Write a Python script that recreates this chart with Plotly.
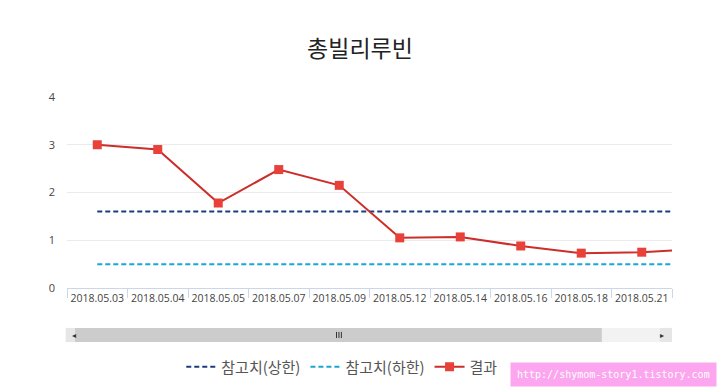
import plotly.graph_objects as go

categories = ["2018.05.03", "2018.05.04", "2018.05.05", "2018.05.07", "2018.05.09",
              "2018.05.12", "2018.05.14", "2018.05.16", "2018.05.18", "2018.05.21",
              "2018.05.23"]
result = [3.0, 2.9, 1.78, 2.48, 2.15, 1.05, 1.07, 0.88, 0.73, 0.75, 0.82]
upper_ref = [1.6] * len(categories)
lower_ref = [0.5] * len(categories)
y_ticks = [0, 1, 2, 3, 4]

FONT = "Noto Sans CJK KR"
TICKFONT = "Open Sans"

fig = go.Figure()
fig.add_trace(go.Scatter(x=categories, y=upper_ref, name="참고치(상한)", mode="lines",
                         line=dict(color="#1d3c7e", width=2, dash="5px,3px")))
fig.add_trace(go.Scatter(x=categories, y=lower_ref, name="참고치(하한)", mode="lines",
                         line=dict(color="#18a6d2", width=2, dash="5px,3px")))
fig.add_trace(go.Scatter(x=categories, y=result, name="결과", mode="lines+markers",
                         line=dict(color="#cc2e2a", width=2),
                         marker=dict(symbol="square", size=9, color="#e8413a")))

fig.update_layout(
    width=720, height=390,
    margin=dict(l=67, r=48, t=97, b=102, autoexpand=False),
    paper_bgcolor="white", plot_bgcolor="white",
    font=dict(family=FONT, color="#333333"),
    title=dict(text="총빌리루빈", x=0.5, xanchor="center", y=0.875, yanchor="middle",
               font=dict(size=23, color="#222222", family=FONT)),
    showlegend=True,
    legend=dict(orientation="h", x=0.455, xanchor="center", y=-0.414, yanchor="middle",
                font=dict(size=15, color="#555555", family=FONT),
                itemwidth=30, tracegroupgap=0, bgcolor="rgba(0,0,0,0)"),
    hovermode=False,
)
fig.update_xaxes(type="category", range=[-0.5, 9.5], showgrid=False, automargin=False,
                 showline=True, linecolor="#ccd6eb", linewidth=1,
                 ticks="outside", tickson="boundaries", ticklen=9, tickcolor="#ccd6eb",
                 tickangle=0,
                 tickfont=dict(size=10.5, color="#444444", family=TICKFONT), fixedrange=True)
fig.update_yaxes(range=[0, 4], tickvals=y_ticks, showgrid=True, gridcolor="#eaeaea",
                 zeroline=False, showline=False, ticklabelstandoff=11, automargin=False,
                 tickfont=dict(size=11, color="#444444", family=TICKFONT), fixedrange=True)

# scrollbar decoration (paper coordinates)
y0, y1 = -0.283, -0.209
fig.add_shape(type="rect", xref="paper", yref="paper", x0=-0.002, x1=1.0, y0=y0, y1=y1,
              fillcolor="#f2f2f2", line=dict(width=0), layer="above")
fig.add_shape(type="rect", xref="paper", yref="paper", x0=0.013, x1=0.884, y0=y0, y1=y1,
              fillcolor="#cccccc", line=dict(width=0), layer="above")
fig.add_shape(type="rect", xref="paper", yref="paper", x0=-0.002, x1=0.013, y0=y0, y1=y1,
              fillcolor="#e6e6e6", line=dict(width=0), layer="above")
fig.add_shape(type="rect", xref="paper", yref="paper", x0=0.98, x1=1.0, y0=y0, y1=y1,
              fillcolor="#e6e6e6", line=dict(width=0), layer="above")
for gx in (0.4455, 0.4495, 0.4535):
    fig.add_shape(type="line", xref="paper", yref="paper", x0=gx, x1=gx, y0=-0.262, y1=-0.230,
                  line=dict(color="#333333", width=1), layer="above")
fig.add_annotation(xref="paper", yref="paper", x=0.0055, y=-0.246, text="◂", showarrow=False,
                   yanchor="middle", font=dict(size=8, color="#333333"))
fig.add_annotation(xref="paper", yref="paper", x=0.99, y=-0.246, text="▸", showarrow=False,
                   yanchor="middle", font=dict(size=8, color="#333333"))

# watermark
fig.add_annotation(xref="paper", yref="paper", x=1.075, y=-0.455, xanchor="right", yanchor="middle",
                   text="http://shymom-story1.tistory.com", showarrow=False,
                   font=dict(size=10, color="white", family="DejaVu Sans Mono"),
                   bgcolor="#fba6ee", borderpad=6)

fig.write_html("out.html", config={"displayModeBar": False, "staticPlot": True},
               post_script="document.body.style.margin='0';")
